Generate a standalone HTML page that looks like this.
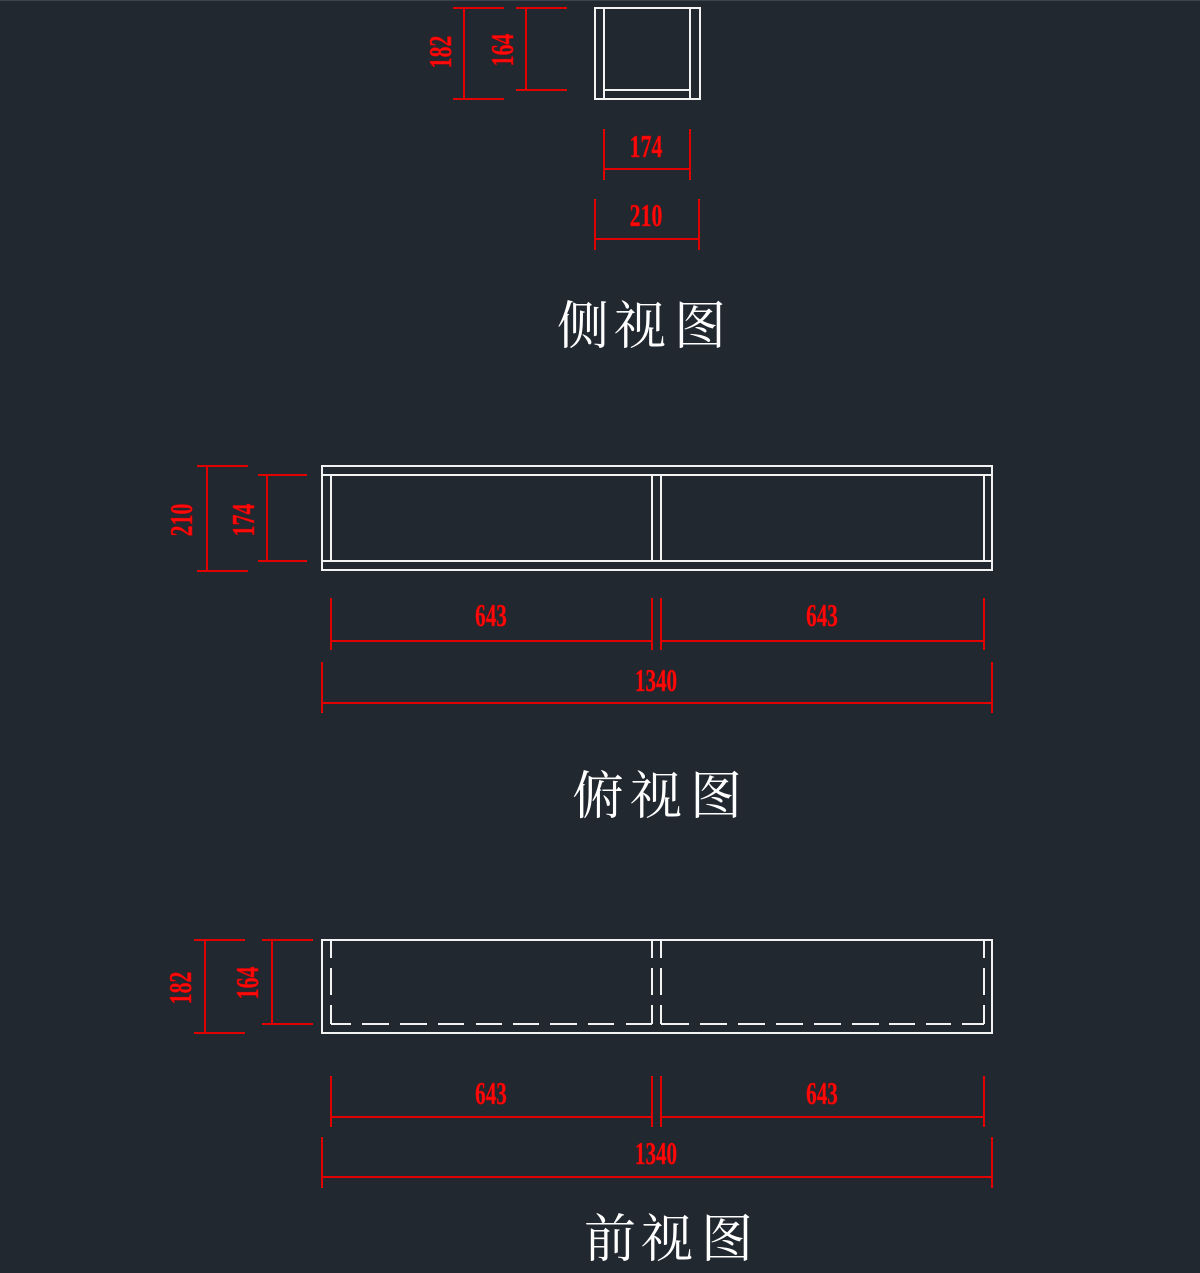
<!DOCTYPE html>
<html><head><meta charset="utf-8"><style>
html,body{margin:0;padding:0;background:#212830;}
svg{display:block;}
.w{stroke:#f2f2f2;stroke-width:2;fill:none;}
.r{stroke:#e00000;stroke-width:2;fill:none;}
.n{fill:#ff0a0a;stroke:#d00000;stroke-width:0.6;font-family:"Liberation Serif",serif;font-size:32px;font-weight:bold;}
.t{fill:#ffffff;font-family:"Liberation Serif","Noto Serif CJK SC",serif;font-size:52px;}
</style></head><body>
<svg width="1200" height="1273" viewBox="0 0 1200 1273" xmlns="http://www.w3.org/2000/svg">
<rect width="1200" height="1273" fill="#212830"/>
<line x1="0" y1="0.5" x2="1200" y2="0.5" stroke="#3c434c" stroke-width="1"/>

<!-- ===== Side view ===== -->
<rect class="w" x="595" y="8" width="105" height="91"/>
<line class="w" x1="604" y1="8" x2="604" y2="99"/>
<line class="w" x1="690" y1="8" x2="690" y2="99"/>
<line class="w" x1="604" y1="90" x2="690" y2="90"/>

<!-- 182 -->
<line class="r" x1="453" y1="8" x2="504" y2="8"/>
<line class="r" x1="453" y1="99" x2="504" y2="99"/>
<line class="r" x1="464" y1="8" x2="464" y2="99"/>
<text class="n" transform="translate(451,52) rotate(-90) scale(0.68,1)" text-anchor="middle">182</text>
<!-- 164 -->
<line class="r" x1="516" y1="8" x2="567" y2="8"/>
<line class="r" x1="516" y1="90" x2="567" y2="90"/>
<line class="r" x1="526" y1="8" x2="526" y2="90"/>
<text class="n" transform="translate(513,50) rotate(-90) scale(0.68,1)" text-anchor="middle">164</text>
<!-- 174 -->
<line class="r" x1="604" y1="129" x2="604" y2="180"/>
<line class="r" x1="690" y1="129" x2="690" y2="180"/>
<line class="r" x1="604" y1="169" x2="690" y2="169"/>
<text class="n" transform="translate(646,157) scale(0.68,1)" text-anchor="middle">174</text>
<!-- 210 -->
<line class="r" x1="595" y1="199" x2="595" y2="250"/>
<line class="r" x1="699" y1="199" x2="699" y2="250"/>
<line class="r" x1="595" y1="239" x2="699" y2="239"/>
<text class="n" transform="translate(646,226) scale(0.68,1)" text-anchor="middle">210</text>

<text class="t" x="583" y="344" text-anchor="middle">侧</text>
<text class="t" x="640" y="344" text-anchor="middle">视</text>
<text class="t" x="700" y="344" text-anchor="middle">图</text>

<!-- ===== Top view ===== -->
<rect class="w" x="322" y="466" width="670" height="104"/>
<line class="w" x1="322" y1="475" x2="992" y2="475"/>
<line class="w" x1="322" y1="561" x2="992" y2="561"/>
<line class="w" x1="331" y1="475" x2="331" y2="561"/>
<line class="w" x1="984" y1="475" x2="984" y2="561"/>
<line class="w" x1="652" y1="475" x2="652" y2="561"/>
<line class="w" x1="661" y1="475" x2="661" y2="561"/>

<!-- 210 -->
<line class="r" x1="197" y1="466" x2="248" y2="466"/>
<line class="r" x1="197" y1="571" x2="248" y2="571"/>
<line class="r" x1="207" y1="466" x2="207" y2="571"/>
<text class="n" transform="translate(192,520) rotate(-90) scale(0.68,1)" text-anchor="middle">210</text>
<!-- 174 -->
<line class="r" x1="258" y1="475" x2="307" y2="475"/>
<line class="r" x1="258" y1="561" x2="307" y2="561"/>
<line class="r" x1="267" y1="475" x2="267" y2="561"/>
<text class="n" transform="translate(254,520) rotate(-90) scale(0.68,1)" text-anchor="middle">174</text>
<!-- 643 / 643 -->
<line class="r" x1="331" y1="598" x2="331" y2="650"/>
<line class="r" x1="652" y1="598" x2="652" y2="650"/>
<line class="r" x1="661" y1="598" x2="661" y2="650"/>
<line class="r" x1="984" y1="598" x2="984" y2="650"/>
<line class="r" x1="331" y1="641" x2="652" y2="641"/>
<line class="r" x1="661" y1="641" x2="984" y2="641"/>
<text class="n" transform="translate(491,626) scale(0.66,1)" text-anchor="middle">643</text>
<text class="n" transform="translate(822,626) scale(0.66,1)" text-anchor="middle">643</text>
<!-- 1340 -->
<line class="r" x1="322" y1="662" x2="322" y2="713"/>
<line class="r" x1="992" y1="662" x2="992" y2="713"/>
<line class="r" x1="322" y1="703" x2="992" y2="703"/>
<text class="n" transform="translate(656,691) scale(0.66,1)" text-anchor="middle">1340</text>

<text class="t" x="598" y="814" text-anchor="middle">俯</text>
<text class="t" x="656" y="814" text-anchor="middle">视</text>
<text class="t" x="716" y="814" text-anchor="middle">图</text>

<!-- ===== Front view ===== -->
<rect class="w" x="322" y="940" width="670" height="93"/>
<g class="w">
<path d="M331 940V958 M331 968V995 M331 1005V1024"/>
<path d="M652 940V958 M652 968V995 M652 1005V1024"/>
<path d="M661 940V958 M661 968V995 M661 1005V1024"/>
<path d="M984 940V958 M984 968V995 M984 1005V1024"/>
<path d="M331 1024H351 M362 1024H389 M400 1024H427 M438 1024H464 M476 1024H502 M513 1024H539 M550 1024H577 M588 1024H614 M626 1024H652"/>
<path d="M661 1024H689 M700 1024H727 M738 1024H765 M776 1024H803 M814 1024H841 M852 1024H879 M889 1024H915 M926 1024H951 M962 1024H984"/>
</g>

<!-- 182 -->
<line class="r" x1="194" y1="940" x2="245" y2="940"/>
<line class="r" x1="194" y1="1033" x2="245" y2="1033"/>
<line class="r" x1="205" y1="940" x2="205" y2="1033"/>
<text class="n" transform="translate(191,988) rotate(-90) scale(0.68,1)" text-anchor="middle">182</text>
<!-- 164 -->
<line class="r" x1="262" y1="940" x2="313" y2="940"/>
<line class="r" x1="262" y1="1024" x2="313" y2="1024"/>
<line class="r" x1="272" y1="940" x2="272" y2="1024"/>
<text class="n" transform="translate(258,983) rotate(-90) scale(0.68,1)" text-anchor="middle">164</text>
<!-- 643 / 643 -->
<line class="r" x1="331" y1="1076" x2="331" y2="1127"/>
<line class="r" x1="652" y1="1076" x2="652" y2="1127"/>
<line class="r" x1="661" y1="1076" x2="661" y2="1127"/>
<line class="r" x1="984" y1="1076" x2="984" y2="1127"/>
<line class="r" x1="331" y1="1117" x2="652" y2="1117"/>
<line class="r" x1="661" y1="1117" x2="984" y2="1117"/>
<text class="n" transform="translate(491,1104) scale(0.66,1)" text-anchor="middle">643</text>
<text class="n" transform="translate(822,1104) scale(0.66,1)" text-anchor="middle">643</text>
<!-- 1340 -->
<line class="r" x1="322" y1="1137" x2="322" y2="1188"/>
<line class="r" x1="992" y1="1137" x2="992" y2="1188"/>
<line class="r" x1="322" y1="1177" x2="992" y2="1177"/>
<text class="n" transform="translate(656,1164) scale(0.66,1)" text-anchor="middle">1340</text>

<text class="t" x="610" y="1257" text-anchor="middle">前</text>
<text class="t" x="667" y="1257" text-anchor="middle">视</text>
<text class="t" x="727" y="1257" text-anchor="middle">图</text>
</svg>
</body></html>
